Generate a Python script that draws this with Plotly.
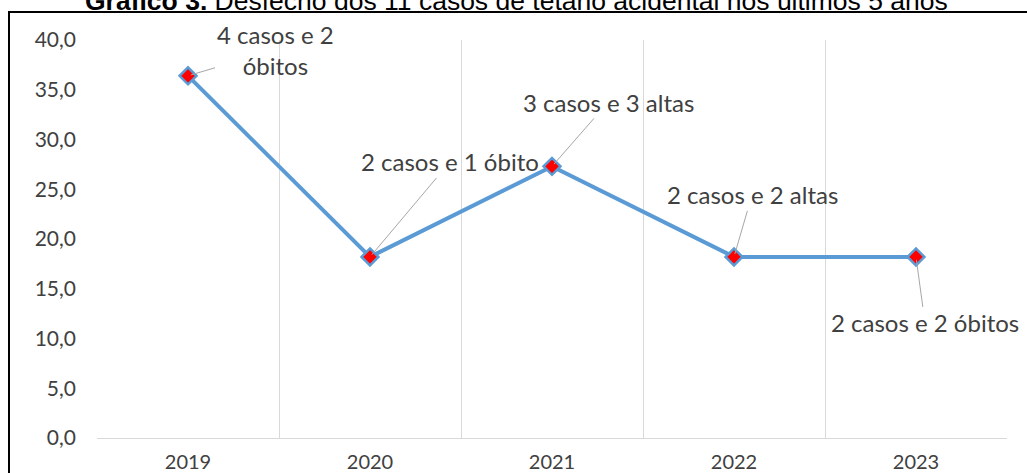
import plotly.graph_objects as go

years = ["2019", "2020", "2021", "2022", "2023"]
values = [36.4, 18.2, 27.3, 18.2, 18.2]
labels = ["4 casos e 2<br>óbitos", "2 casos e 1 óbito", "3 casos e 3 altas",
          "2 casos e 2 altas", "2 casos e 2 óbitos"]
label_offsets = [(87, -26), (80, -95), (56, -64), (18, -62), (9, 66)]
title_text = "<b>Gráfico 3.</b> Desfecho dos 11 casos de tétano acidental nos últimos 5 anos"

W, H = 1027, 473
ml, mr, mt, mb = 97, 20, 40, 35
pw, ph = W - ml - mr, H - mt - mb

fig = go.Figure()
fig.add_trace(go.Scatter(
    x=years, y=values, mode="lines+markers",
    line=dict(color="#5B9BD5", width=4),
    marker=dict(symbol="diamond", size=13, color="#FF0000",
                line=dict(color="#5B9BD5", width=2.5)),
    hoverinfo="skip", showlegend=False,
))

for i, (v, t, (ax, ay)) in enumerate(zip(values, labels, label_offsets)):
    fig.add_annotation(
        x=i, y=v, xref="x", yref="y", text=t, showarrow=True, arrowhead=0,
        arrowwidth=1, arrowcolor="#A6A6A6", ax=ax, ay=ay, standoff=3,
        font=dict(family="Lato", size=24, color="#404040"),
        align="center",
    )

# title (partially cut at the top, like the reference)
fig.add_annotation(
    xref="paper", yref="paper",
    x=(516 - ml) / pw, y=1 + (mt - 1) / ph,
    xanchor="center", yanchor="middle", showarrow=False,
    text=title_text,
    font=dict(family="Liberation Sans", size=26.5, color="#000000"),
)

# outer chart frame
fig.add_shape(
    type="rect", xref="paper", yref="paper",
    x0=(9 - ml) / pw, x1=1.2, y0=-0.3, y1=1 + (mt - 12) / ph,
    line=dict(color="#000000", width=2), fillcolor="rgba(0,0,0,0)",
    layer="below",
)

fig.update_layout(
    width=W, height=H,
    margin=dict(l=ml, r=mr, t=mt, b=mb, autoexpand=False),
    paper_bgcolor="white", plot_bgcolor="white",
    separators=", ",
    xaxis=dict(
        type="category", range=[-0.5, 4.5], tickson="boundaries",
        showgrid=True, gridcolor="#D9D9D9", gridwidth=1,
        showline=True, linecolor="#D9D9D9", linewidth=1,
        ticks="", ticklabelstandoff=6, automargin=False,
        tickfont=dict(family="Lato", size=20, color="#404040"),
        fixedrange=True,
    ),
    yaxis=dict(
        range=[0, 40], dtick=5, tickformat=".1f",
        showgrid=False, zeroline=False, showline=False, ticks="",
        ticklabelstandoff=20, automargin=False,
        tickfont=dict(family="Lato", size=21, color="#404040"),
        fixedrange=True,
    ),
)

fig.write_html(
    "out.html", config={"displayModeBar": False},
    post_script="document.body.style.margin='0';document.body.style.overflow='hidden';",
)
